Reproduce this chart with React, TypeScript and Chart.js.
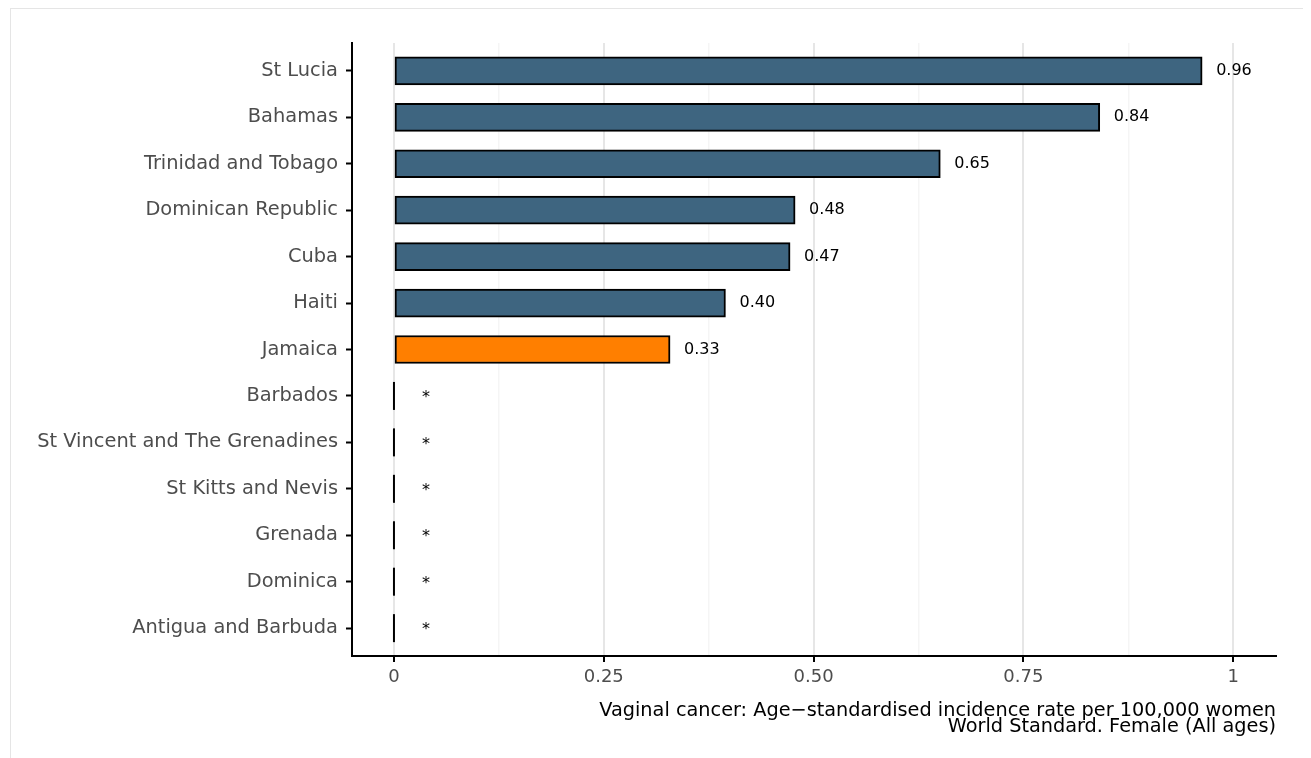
import React, { useEffect, useRef } from "react";
import { Chart, registerables } from "chart.js";

Chart.register(...registerables);

const countries = [
  "St Lucia",
  "Bahamas",
  "Trinidad and Tobago",
  "Dominican Republic",
  "Cuba",
  "Haiti",
  "Jamaica",
  "Barbados",
  "St Vincent and The Grenadines",
  "St Kitts and Nevis",
  "Grenada",
  "Dominica",
  "Antigua and Barbuda",
];
const rates = [0.963, 0.841, 0.651, 0.478, 0.472, 0.395, 0.329, 0, 0, 0, 0, 0, 0];
const valueLabels = ["0.96", "0.84", "0.65", "0.48", "0.47", "0.40", "0.33", "*", "*", "*", "*", "*", "*"];
const highlight = "Jamaica";
const xTickValues = [0, 0.125, 0.25, 0.375, 0.5, 0.625, 0.75, 0.875, 1];
const xMajorLabels: Record<string, string> = { "0": "0", "0.25": "0.25", "0.5": "0.50", "0.75": "0.75", "1": "1" };
const axisTitle = [
  "Vaginal cancer: Age\u2212standardised incidence rate per 100,000 women",
  "World Standard. Female (All ages)",
];

const FONT = "'DejaVu Sans', sans-serif";

const labelPlugin = {
  id: "valueLabels",
  afterDatasetsDraw(chart: any) {
    const ctx = chart.ctx;
    const meta = chart.getDatasetMeta(0);
    const xs = chart.scales.x;
    ctx.save();
    ctx.font = `16px ${FONT}`;
    ctx.fillStyle = "#000000";
    ctx.textBaseline = "middle";
    ctx.textAlign = "left";
    meta.data.forEach((bar: any, i: number) => {
      const v = rates[i];
      const half = bar.height / 2;
      if (v === 0) {
        const x0 = xs.getPixelForValue(0);
        ctx.strokeStyle = "#000000";
        ctx.lineWidth = 2;
        ctx.beginPath();
        ctx.moveTo(x0, bar.y - half);
        ctx.lineTo(x0, bar.y + half);
        ctx.stroke();
        ctx.fillText(valueLabels[i], x0 + 28, bar.y + 2);
      } else {
        ctx.fillText(valueLabels[i], xs.getPixelForValue(v) + 14, bar.y);
      }
    });
    ctx.restore();
  },
};

export default function App() {
  const ref = useRef<HTMLCanvasElement | null>(null);
  useEffect(() => {
    if (!ref.current) return;
    const chart = new Chart(ref.current, {
      type: "bar",
      data: {
        datasets: [
          {
            data: rates.map((v, i) => ({ x: v, y: i })),
            backgroundColor: countries.map((c) => (c === highlight ? "#ff7f00" : "#3e6580")),
            borderColor: "#000000",
            borderWidth: 2,
            borderSkipped: false,
            barThickness: 28,
          },
        ],
      },
      plugins: [labelPlugin],
      options: {
        indexAxis: "y",
        animation: false,
        responsive: false,
        maintainAspectRatio: false,
        layout: { padding: { top: 34, right: 35, left: 0, bottom: 0 } },
        plugins: {
          legend: { display: false },
          tooltip: { enabled: false },
          title: { display: false },
        },
        scales: {
          y: {
            type: "linear",
            reverse: true,
            offset: false,
            min: -0.6,
            max: 12.6,
            afterBuildTicks: (scale: any) => {
              scale.ticks = countries.map((_, i) => ({ value: i }));
            },
            afterFit: (scale: any) => {
              scale.width = 341;
            },
            ticks: {
              autoSkip: false,
              callback: (v: any) => countries[v] ?? "",
              color: "#4d4d4d",
              font: { family: FONT, size: 19.4 },
              padding: 8,
            },
            grid: {
              display: true,
              offset: false,
              drawOnChartArea: false,
              drawTicks: true,
              tickLength: 6,
              tickColor: "#000000",
              tickWidth: 2,
            },
            border: { display: true, color: "#000000", width: 2 },
          },
          x: {
            type: "linear",
            min: -0.05,
            max: 1.051,
            afterBuildTicks: (scale: any) => {
              scale.ticks = xTickValues.map((v) => ({ value: v }));
            },
            afterFit: (scale: any) => {
              scale.height = 102;
            },
            ticks: {
              autoSkip: false,
              maxRotation: 0,
              callback: (v: any) => xMajorLabels[String(v)] ?? "",
              color: "#4d4d4d",
              font: { family: FONT, size: 18 },
              padding: 5,
            },
            grid: {
              display: true,
              drawOnChartArea: true,
              drawTicks: true,
              tickLength: 6,
              color: (c: any) => (xMajorLabels[String(c.tick?.value)] !== undefined ? "#e6e6e6" : "#f5f5f5"),
              lineWidth: (c: any) => (xMajorLabels[String(c.tick?.value)] !== undefined ? 2 : 1.5),
              tickColor: (c: any) => (xMajorLabels[String(c.tick?.value)] !== undefined ? "#000000" : "rgba(0,0,0,0)"),
              tickWidth: 2,
            },
            border: { display: true, color: "#000000", width: 2 },
            title: {
              display: true,
              text: axisTitle,
              align: "end",
              color: "#000000",
              font: { family: FONT, size: 19.3, lineHeight: 0.84 },
              padding: { top: 0, bottom: 23 },
            },
          },
        },
      },
    } as any);
    return () => chart.destroy();
  }, []);

  return (
    <div
      style={{
        marginLeft: 2,
        borderTop: "1px solid #e5e5e5",
        borderLeft: "1px solid #e5e5e5",
        width: 1301,
        height: 750,
        overflow: "hidden",
      }}
    >
      <canvas ref={ref} width={1300} height={749} style={{ display: "block", width: 1300, height: 749 }} />
    </div>
  );
}
